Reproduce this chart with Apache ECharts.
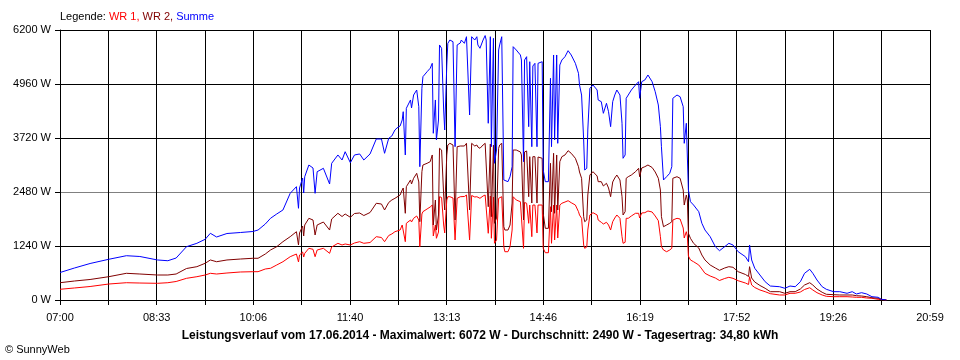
<!DOCTYPE html>
<html><head><meta charset="utf-8">
<script src="https://cdn.jsdelivr.net/npm/echarts@6/dist/echarts.min.js"></script>
<style>html,body{margin:0;padding:0;background:#fff}#c{width:960px;height:360px}</style>
</head><body><div id="c"></div>
<script>
// minutes after 07:00
const minutes = [0,14,29,47,64,77,94,104,112,122,
132,140,145,151,161,174,186,191,198,203,
209,215,222,228,230,231,234,235,236,240,
244,246,248,254,260,262,268,272,275,280,
284,289,293,299,305,310,313,317,320,323,
325,328,330,331,333,334,338,339,341,344,
346,347,349,350,354,357,359,360,362,363,
365,366,368,370,371,373,374,376,379,381,
383,386,387,390,392,393,395,397,400,402,
403,405,408,410,411,413,415,416,418,419,
421,423,424,426,428,429,432,434,436,437,
440,444,445,447,448,450,452,453,455,456,
458,460,461,465,466,468,471,473,474,476,
477,479,480,482,484,487,490,493,497,500,
501,503,505,506,508,509,511,514,518,519,
522,524,527,529,531,533,535,537,540,542,
543,545,546,548,551,555,558,559,561,564,
567,571,574,577,579,580,582,585,588,590,
591,595,598,601,602,604,605,606,608,611,
612,616,619,622,627,632,636,641,645,649,
654,661,664,665,667,670,675,680,685,694,
699,704,709,714,718,723,726,730,735,739,
746,752,759,764,768,773,778,783,789,792,
797];
const summe = [631,735,838,935,1017,999,919,902,964,1224,
1302,1394,1532,1447,1527,1550,1573,1607,1745,1876,
1975,2067,2450,2602,2106,2572,2801,2457,2831,3100,
3031,2450,2946,3024,2664,3139,3330,3215,3405,3153,
3330,3353,3215,3353,3697,3697,3369,3713,3766,3904,
3950,3996,4133,4324,3330,4402,4593,4409,4707,4822,
4439,3061,4861,5128,5242,5321,5435,3828,4593,3674,
4133,5856,5780,4363,3904,5396,5894,5970,5931,3520,
5856,5901,5970,5894,6046,6009,4248,6046,5970,6046,
5856,5780,5970,6072,5970,4058,6046,3520,6009,3139,
3444,5741,5856,6046,2756,2717,2717,2831,3061,5817,
5741,5626,5511,3176,5511,5587,3980,5472,3520,5373,
5435,3520,5435,5472,2985,2717,2717,5091,3520,5626,
3674,5626,3598,5396,5511,5587,5725,5626,5435,5206,
4937,4707,3674,2985,3024,3904,4861,4937,4822,4593,
4554,4287,4517,4324,3980,4554,4707,4822,4707,4058,
3254,3330,4632,4707,4822,4937,5013,4632,5013,5052,
5167,5013,4783,4478,3980,3520,2756,2831,2909,3061,
4632,4707,4668,4439,3598,4058,4018,2526,2257,2181,
2142,2028,1761,1607,1454,1224,1132,1224,1302,1263,
1109,994,879,1263,919,728,574,420,321,305,
269,321,305,420,613,705,613,459,305,246,
191,191,154,191,138,168,138,76,62,16,
0];
const wr2 = [397,436,471,535,613,597,574,574,597,723,
765,843,919,879,919,941,958,958,1056,1148,
1224,1339,1454,1568,1263,1539,1699,1470,1722,1876,
1837,1493,1722,1791,1607,1860,1991,1917,1975,1899,
1986,1998,1940,2009,2221,2204,2067,2239,2296,2335,
2365,2411,2526,2572,1991,2602,2756,2664,2795,2909,
2710,1798,2946,3100,3139,3176,3330,1722,2296,1607,
1952,3483,3444,2411,2067,3330,3559,3598,3559,1837,
3520,3536,3559,3536,3598,3582,2067,3598,3536,3559,
3513,3483,3559,3598,3559,2142,3582,1913,3559,1761,
1883,3483,3559,3598,1683,1607,1607,1722,2227,3444,
3444,3399,3330,1837,3399,3422,2372,3291,2227,3291,
3291,2227,3284,3254,1991,1646,1646,3139,2028,3369,
1991,3330,2067,3176,3291,3330,3428,3369,3254,3061,
2939,2795,1913,1798,1837,2411,2870,2946,2847,2717,
2717,2618,2680,2572,2372,2710,2801,2870,2756,2372,
1952,2028,2795,2831,2870,2946,3024,2831,3031,3061,
3100,3043,2939,2795,2526,1913,1683,1722,1761,1798,
2795,2831,2795,2526,2181,2411,2296,1532,1417,1302,
1286,1194,1033,919,804,735,682,735,765,751,
650,586,540,765,505,413,333,269,191,191,
154,191,191,253,344,397,344,253,177,131,
122,115,115,115,99,92,76,53,39,16,
0];
const wr1 = [246,276,310,367,397,390,383,397,425,498,
535,574,613,597,620,643,650,650,712,728,
804,879,994,1056,873,1033,1102,987,1072,1187,
1164,994,1148,1187,1072,1217,1302,1263,1286,1263,
1309,1339,1302,1320,1454,1435,1339,1481,1516,1568,
1584,1607,1722,1745,1339,1761,1837,1791,1876,1929,
1837,1224,1975,2028,2090,2136,2181,1470,1722,1417,
1561,2372,2354,1722,1539,2296,2372,2372,2342,1378,
2335,2372,2411,2377,2411,2388,1378,2400,2365,2372,
2354,2335,2388,2411,2388,1532,2388,1417,2365,1302,
1378,2335,2365,2372,1224,1109,1109,1224,1607,2372,
2296,2257,2250,1187,2239,2221,1761,2181,1454,2181,
2181,1539,2181,2181,1187,1086,1086,2142,1302,2181,
1378,2181,1424,2181,2221,2250,2280,2234,2181,2028,
1952,1876,1263,1187,1217,1607,1952,2005,1952,1837,
1784,1745,1784,1722,1607,1798,1883,1952,1876,1454,
1302,1325,1876,1876,1929,1991,1991,1883,1998,2005,
2044,2021,1929,1821,1454,1224,1148,1109,1148,1187,
1837,1876,1860,1653,1424,1568,1470,1010,919,879,
873,804,712,613,551,505,448,494,521,498,
443,390,356,535,344,287,230,191,145,115,
115,154,154,184,241,282,230,168,115,85,
76,76,76,69,62,62,46,39,16,7,
0];
const xTickLabels = ['07:00','08:33','10:06','11:40','13:13','14:46','16:19','17:52','19:26','20:59'];
const seriesNames = ['WR 1','WR 2','Summe'];
const titleText = 'Leistungsverlauf vom 17.06.2014 - Maximalwert: 6072 W - Durchschnitt: 2490 W - Tagesertrag: 34,80 kWh';

const FONT = '"Liberation Sans", Arial, sans-serif';
const chart = echarts.init(document.getElementById('c'), null, {renderer: 'canvas'});
const xSpan = 839;
const pair = arr => minutes.map((m, i) => [m, arr[i]]);
const lineSeries = (name, arr, color) => ({
  name, type: 'line', data: pair(arr), showSymbol: false, symbol: 'none',
  lineStyle: {color, width: 1}, itemStyle: {color}, silent: true
});
chart.setOption({
  animation: false,
  backgroundColor: '#ffffff',
  textStyle: {fontFamily: FONT},
  grid: {left: 60, right: 30, top: 30, bottom: 60, containLabel: false},
  title: [
    {
      text: '{k|Legende: }{r|' + seriesNames[0] + ', }{d|' + seriesNames[1] + ', }{b|' + seriesNames[2] + '}',
      left: 60, top: 11, padding: 0,
      textStyle: {fontSize: 11, fontFamily: FONT, fontWeight: 'normal', rich: {
        k: {color: '#000', fontSize: 11, fontFamily: FONT},
        r: {color: '#ff0000', fontSize: 11, fontFamily: FONT},
        d: {color: '#800000', fontSize: 11, fontFamily: FONT},
        b: {color: '#0000ff', fontSize: 11, fontFamily: FONT}
      }}
    },
    {
      text: titleText, left: 'center', top: 330, padding: 0,
      textStyle: {fontSize: 12, fontWeight: 'bold', color: '#000', fontFamily: FONT}
    },
    {
      text: '© SunnyWeb', left: 5, top: 344, padding: 0,
      textStyle: {fontSize: 11, fontWeight: 'normal', color: '#000', fontFamily: FONT}
    }
  ],
  xAxis: {
    type: 'value', min: 0, max: xSpan, interval: xSpan / 18,
    axisLine: {show: true, lineStyle: {color: '#000', width: 1}},
    axisTick: {show: true, length: 5, lineStyle: {color: '#000', width: 1}},
    splitLine: {show: true, lineStyle: {color: '#000', width: 1}},
    axisLabel: {
      color: '#000', fontSize: 11, fontFamily: FONT, margin: 12,
      formatter: (v, i) => (i % 2 === 0 ? (xTickLabels[i / 2] || '') : '')
    }
  },
  yAxis: {
    type: 'value', min: 0, max: 6200, interval: 1240,
    axisLine: {show: true, lineStyle: {color: '#000', width: 1}},
    axisTick: {show: true, length: 5, lineStyle: {color: '#000', width: 1}},
    splitLine: {show: true, lineStyle: {color: ['#000', '#000', '#808080', '#000', '#000', '#000'], width: 1}},
    axisLabel: {color: '#000', fontSize: 11, fontFamily: FONT, margin: 9, formatter: v => v + ' W'}
  },
  series: [
    lineSeries(seriesNames[0], wr1, '#ff0000'),
    lineSeries(seriesNames[1], wr2, '#800000'),
    lineSeries(seriesNames[2], summe, '#0000ff')
  ]
});
</script></body></html>
